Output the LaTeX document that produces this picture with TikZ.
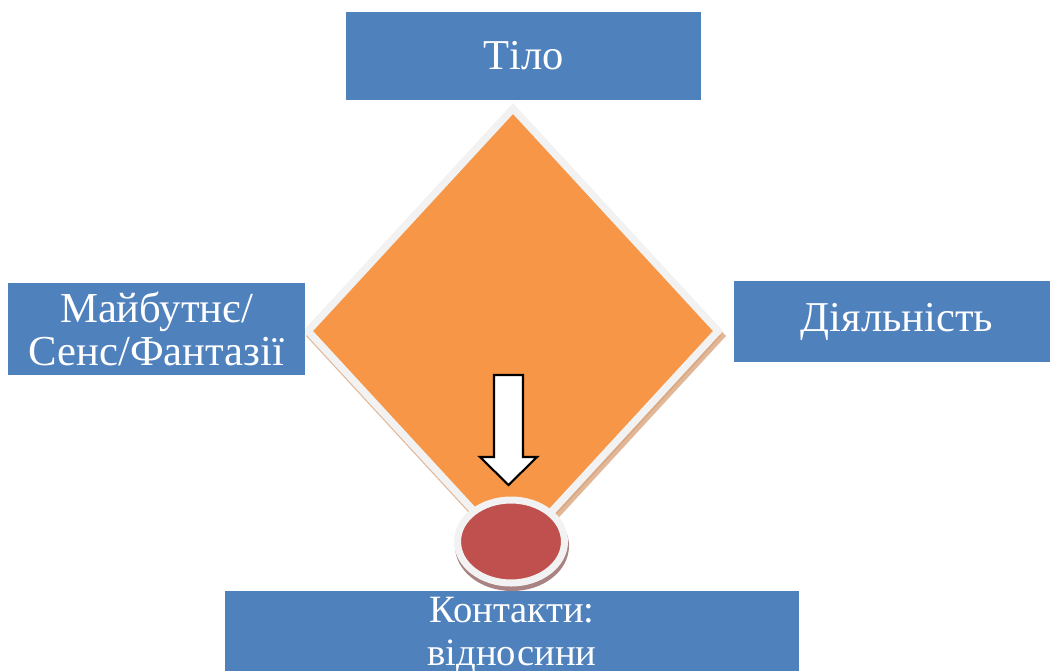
\documentclass[tikz,border=0pt]{standalone}
\usepackage{fontspec}
\setmainfont{Liberation Serif}
\usetikzlibrary{shapes.geometric}
\definecolor{boxblue}{HTML}{4F81BD}
\definecolor{kiteorange}{HTML}{F79646}
\definecolor{dotred}{HTML}{C0504D}
\definecolor{rim}{HTML}{F2F2F2}
\definecolor{kiteshadow}{HTML}{D9A57E}
\definecolor{dotshadow}{HTML}{A98383}

\begin{document}
\begin{tikzpicture}[x=0.02cm,y=-0.02cm,
    bluebox/.style={rectangle,fill=boxblue,text=white,align=center,inner sep=0pt},
    bigtext/.style={font=\fontsize{24.2}{28}\selectfont},
    midtext/.style={font=\fontsize{24.3}{24.5}\selectfont},
    smalltext/.style={font=\fontsize{22}{24.6}\selectfont}]

  \clip (0,0) rectangle (1050,670);

  % the orange square standing on its corner
  \coordinate (T) at (513,108.5);
  \coordinate (L) at (308,331);
  \coordinate (R) at (718,331);
  \coordinate (B) at (513,553.5);
  \begin{scope}[transform canvas={shift={(3,5)}}]
    \filldraw[fill=kiteshadow,draw=kiteshadow,line width=4.2pt,opacity=.8]
      (T) -- (R) -- (B) -- (L) -- cycle;
  \end{scope}
  \filldraw[fill=kiteorange,draw=rim,line width=4.2pt] (T) -- (R) -- (B) -- (L) -- cycle;

  % block arrow
  \draw[fill=white,line width=1.2pt,line join=miter]
    (494,375) -- (523,375) -- (523,457) -- (537,457) -- (508.5,485)
    -- (480,457) -- (494,457) -- cycle;

  % red dot
  \fill[dotshadow] (512,546) ellipse [x radius=57, y radius=45];
  \node[ellipse,fill=dotred,draw=rim,line width=4pt,inner sep=0pt,
        minimum width=2.14cm,minimum height=1.66cm] (dot) at (511,541.5) {};

  % the four boxes
  \node[bluebox,bigtext,minimum width=7.1cm,minimum height=1.76cm] (body) at (523.5,56) {Тіло};
  \node[bluebox,midtext,minimum width=5.94cm,minimum height=1.84cm] (future) at (156.5,329)
    {Майбутнє/\\Сенс/Фантазії};
  \node[bluebox,bigtext,minimum width=6.52cm,minimum height=1.62cm] (activity) at (897,321.5) {Діяльність};
  \node[bluebox,smalltext,minimum width=11.48cm,minimum height=1.76cm] (contacts) at (512,635)
    {Контакти:\\відносини};

\end{tikzpicture}
\end{document}
